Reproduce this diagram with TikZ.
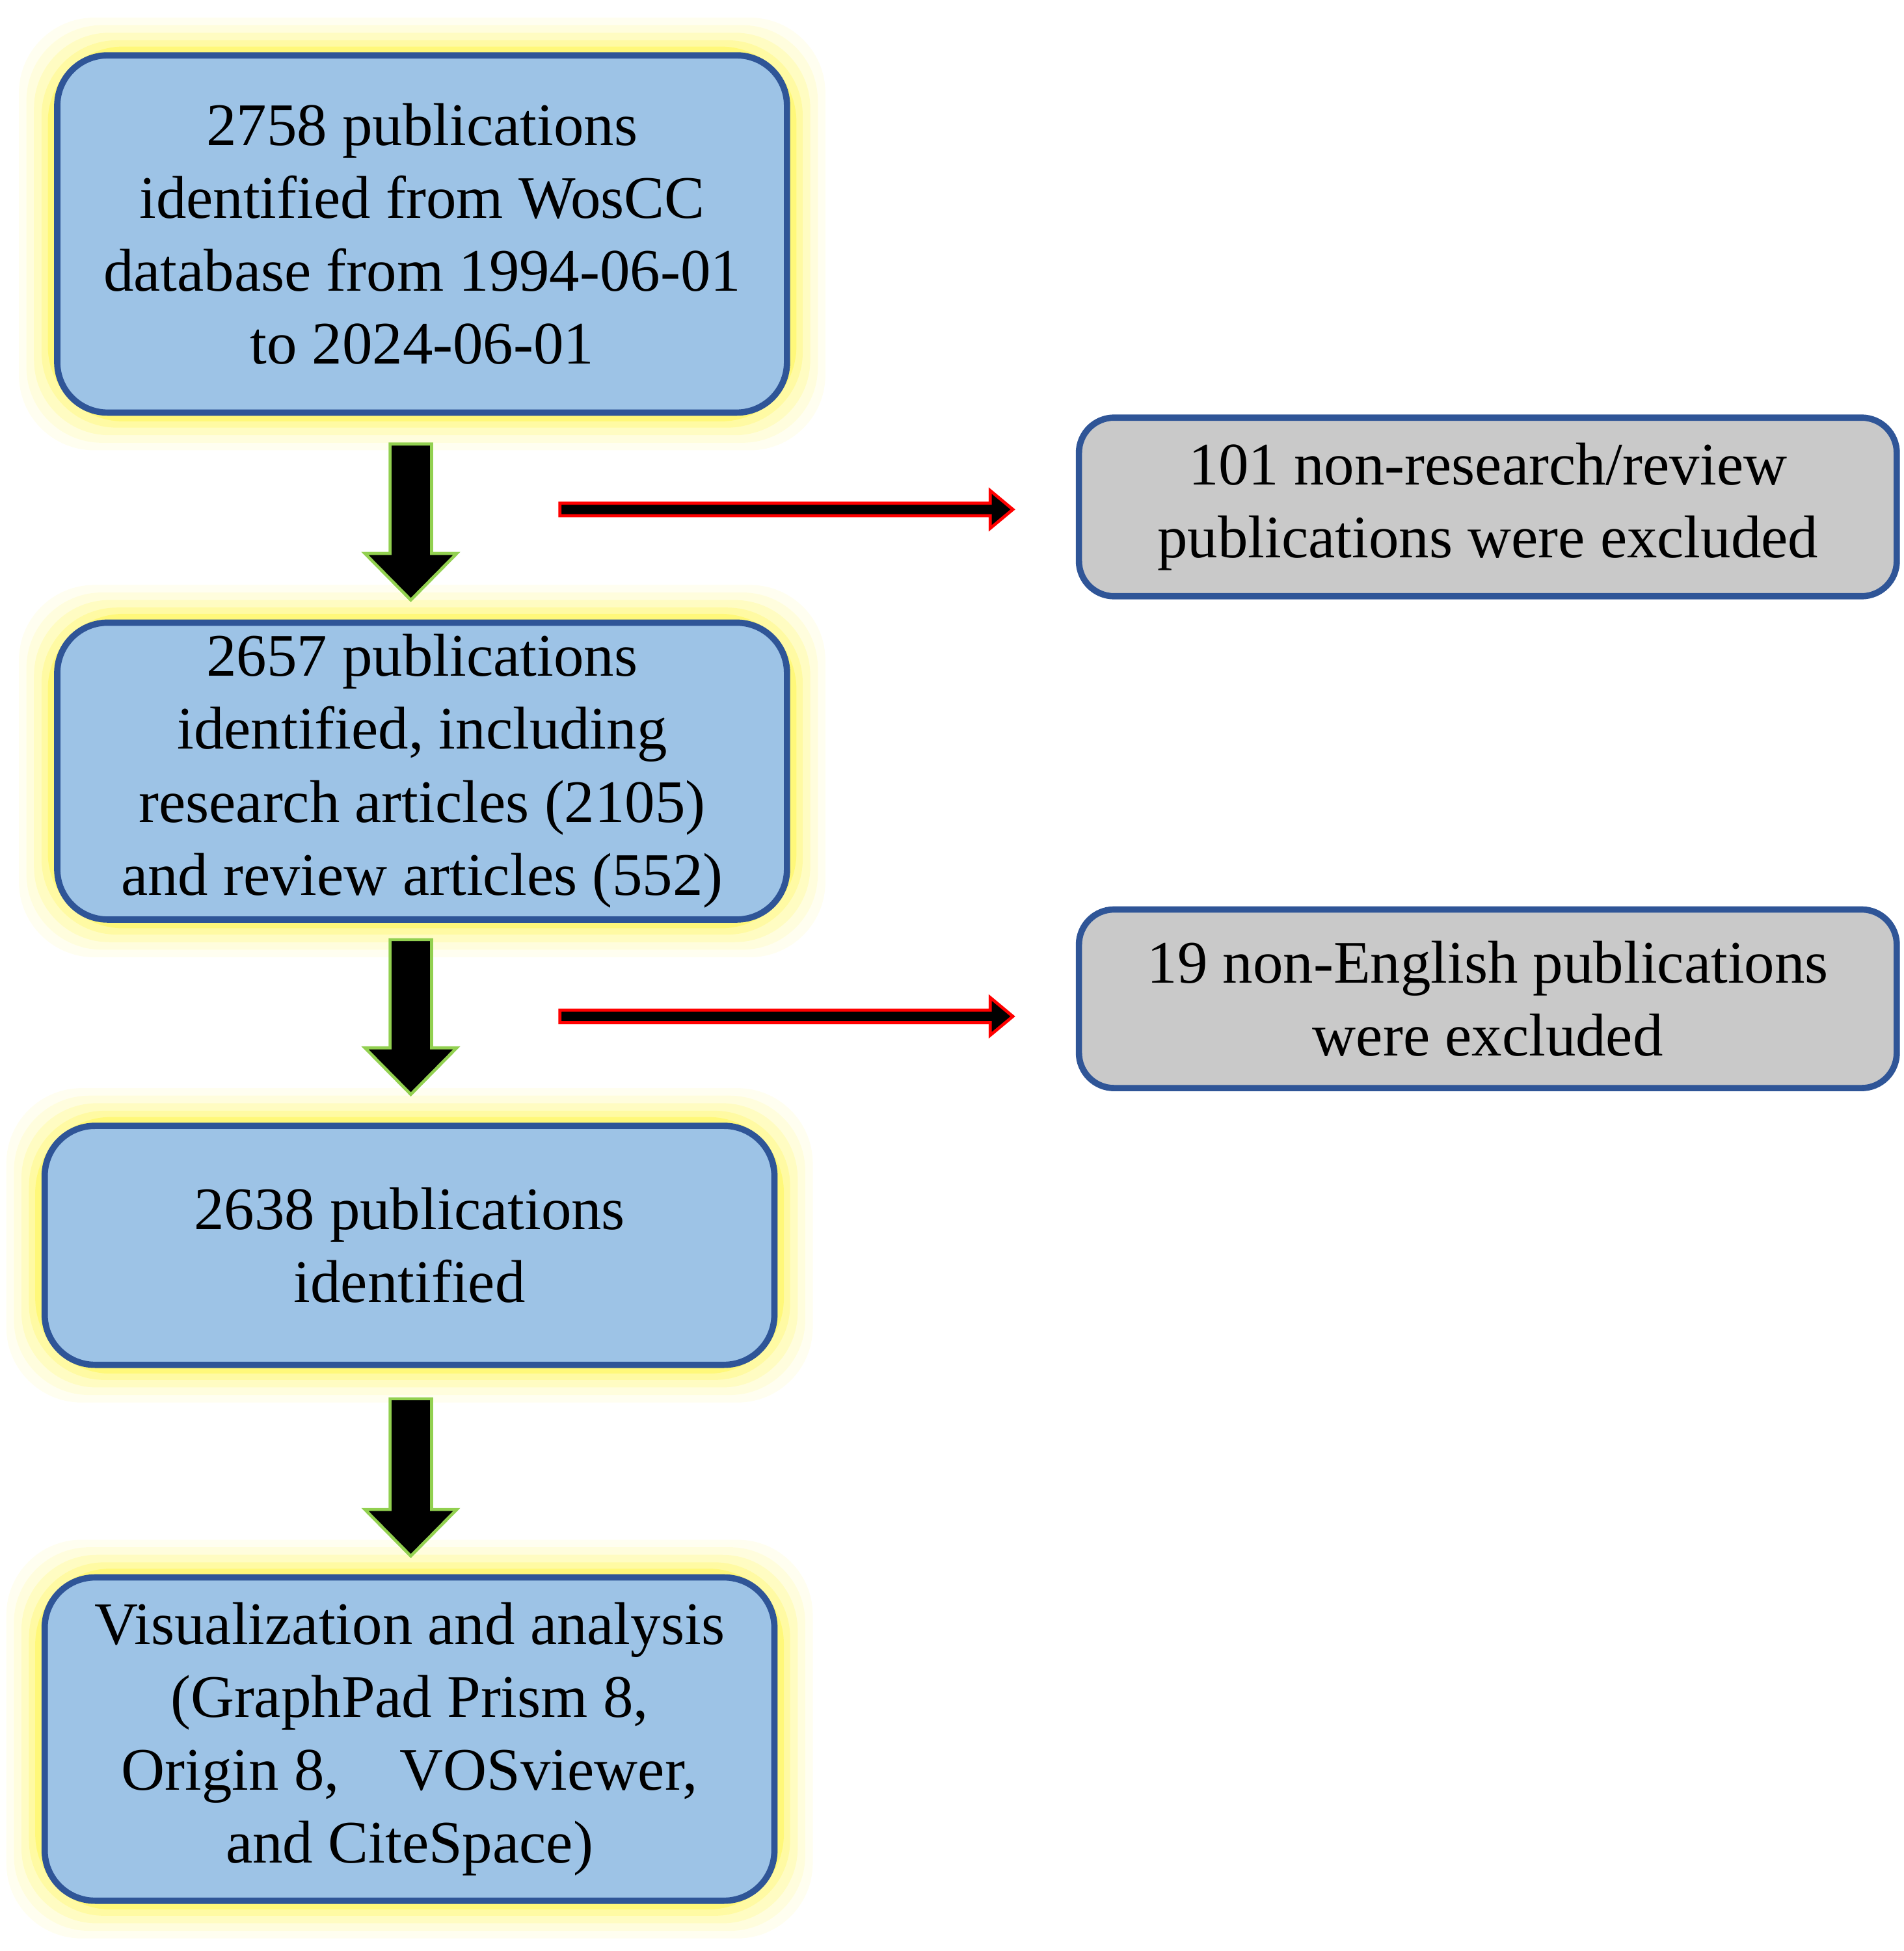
\documentclass[tikz,border=0pt]{standalone}
\usepackage{fontspec}
\setmainfont{Liberation Serif}
\begin{document}
\begin{tikzpicture}[x=0.5pt,y=-0.5pt,
 bluebox/.style={draw=blue!45!black!80!cyan, line width=2.5pt, fill={rgb,255:red,157;green,195;blue,230}, rounded corners=20pt, align=center, inner sep=0pt, font=\fontsize{24}{29}\selectfont},
 graybox/.style={bluebox, fill={rgb,255:red,201;green,201;blue,201}, rounded corners=14pt},
 downarr/.style={fill=black, draw={rgb,255:red,146;green,208;blue,80}, line width=1.2pt},
 redarr/.style={fill=black, draw=red, line width=1.2pt}]
\useasboundingbox (0,0) rectangle (1513,1551);
\definecolor{bdr}{RGB}{47,85,151}
\newcommand{\glowbox}[4]{%
 \foreach \g/\o in {28/0.06,22/0.08,16/0.12,10/0.16,5/0.25}{%
  \fill[yellow, opacity=\o, rounded corners=30pt] (#1-\g,#2-\g) rectangle (#3+\g,#4+\g);}}
\glowbox{43}{42}{628}{330}
\glowbox{43}{493}{628}{733}
\glowbox{33}{893}{618}{1087}
\glowbox{33}{1252}{618}{1513}
\node[bluebox, draw=bdr, minimum width=290pt, minimum height=142pt] (b1) at (335.5,186) {2758 publications\\identified from WosCC\\database from 1994-06-01\\to 2024-06-01};
\node[bluebox, draw=bdr, minimum width=290pt, minimum height=118pt] (b2) at (335.5,613) {2657 publications\\identified, including\\research articles (2105)\\and review articles (552)};
\node[bluebox, draw=bdr, minimum width=290pt, minimum height=95pt] (b3) at (325.5,990) {2638 publications\\identified};
\node[bluebox, draw=bdr, minimum width=290pt, minimum height=128.5pt] (b4) at (325.5,1382.5) {Visualization and analysis\\(GraphPad Prism 8,\\Origin 8,\quad VOSviewer,\\and CiteSpace)};
\node[graybox, draw=bdr, minimum width=325pt, minimum height=71pt] (g1) at (1182.5,403) {101 non-research/review\\publications were excluded};
\node[graybox, draw=bdr, minimum width=325pt, minimum height=71pt] (g2) at (1182.5,794) {19 non-English publications\\were excluded};
\foreach \t/\b in {353/477,747/870,1112/1237}{
 \draw[downarr] (310,\t) -- (343,\t) -- (343,\b-37) -- (363,\b-37) -- (326.5,\b) -- (290,\b-37) -- (310,\b-37) -- cycle;}
\foreach \yy in {405,808}{
 \draw[redarr] (445,\yy-5) -- (787,\yy-5) -- (787,\yy-15) -- (805,\yy) -- (787,\yy+15) -- (787,\yy+5) -- (445,\yy+5) -- cycle;}
\end{tikzpicture}
\end{document}
